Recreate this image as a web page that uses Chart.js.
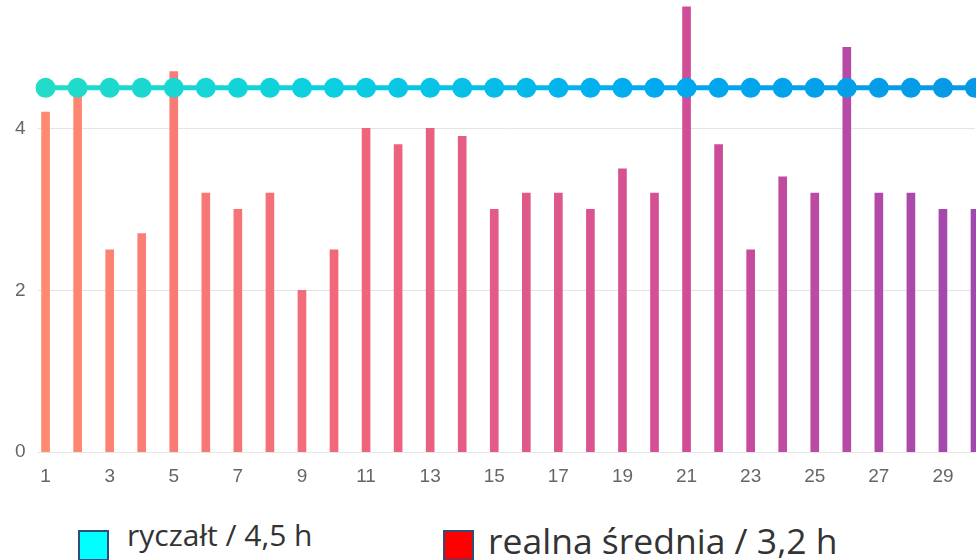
<!DOCTYPE html>
<html>
<head>
<meta charset="utf-8">
<script src="https://cdn.jsdelivr.net/npm/chart.js@4.4.1/dist/chart.umd.min.js"></script>
<style>
html,body{margin:0;padding:0;width:976px;height:560px;overflow:hidden;background:#ffffff;}
#wrap{position:absolute;left:0;top:0;}
.leg{position:absolute;font-family:"Open Sans",sans-serif;color:#333;white-space:nowrap;line-height:1;}
.box{position:absolute;width:27px;height:27px;border:2px solid #2f4c7c;}
</style>
</head>
<body>
<div id="wrap"><canvas id="c" width="985" height="558"></canvas></div>
<div class="box" style="left:78px;top:530px;background:#00ffff"></div>
<div class="leg" style="left:127px;top:520px;font-size:30px">ryczałt / 4,5 h</div>
<div class="box" style="left:443px;top:530px;background:#ff0000"></div>
<div class="leg" style="left:488px;top:523px;font-size:35.5px">realna średnia / 3,2 h</div>
<script>
const dayLabels = ['1','2','3','4','5','6','7','8','9','10','11','12','13','14','15','16','17','18','19','20','21','22','23','24','25','26','27','28','29','30'];
const realHours = [4.2,4.5,2.5,2.7,4.7,3.2,3.0,3.2,2.0,2.5,4.0,3.8,4.0,3.9,3.0,3.2,3.2,3.0,3.5,3.2,5.5,3.8,2.5,3.4,3.2,5.0,3.2,3.2,3.0,3.0];
const flatHours = [4.5,4.5,4.5,4.5,4.5,4.5,4.5,4.5,4.5,4.5,4.5,4.5,4.5,4.5,4.5,4.5,4.5,4.5,4.5,4.5,4.5,4.5,4.5,4.5,4.5,4.5,4.5,4.5,4.5,4.5];
const yTicks = [0,2,4,6];

function barGradient(ctx){
  const ch = ctx.chart; const a = ch.chartArea;
  if(!a) return '#f0647c';
  const g = ch.ctx.createLinearGradient(a.left, 0, a.right, 0);
  g.addColorStop(0, '#ff8a70');
  g.addColorStop(0.35, '#ef647c');
  g.addColorStop(0.7, '#d04c98');
  g.addColorStop(1, '#a048b0');
  return g;
}
function lineGradient(ctx){
  const ch = ctx.chart; const a = ch.chartArea;
  if(!a) return '#10c8e0';
  const g = ch.ctx.createLinearGradient(a.left, 0, a.right, 0);
  g.addColorStop(0, '#22dcc8');
  g.addColorStop(0.3, '#0cd0e0');
  g.addColorStop(0.65, '#00aaf0');
  g.addColorStop(1, '#0898e4');
  return g;
}

const chart = new Chart(document.getElementById('c'), {
  type: 'bar',
  data: {
    labels: dayLabels,
    datasets: [
      {
        type: 'line',
        label: 'ryczałt / 4,5 h',
        data: flatHours,
        borderColor: lineGradient,
        backgroundColor: lineGradient,
        pointBackgroundColor: lineGradient,
        pointBorderColor: lineGradient,
        pointBorderWidth: 0,
        pointRadius: 10,
        borderWidth: 5,
        fill: false,
        tension: 0,
        clip: false,
        order: 0
      },
      {
        type: 'bar',
        label: 'realna średnia / 3,2 h',
        data: realHours,
        backgroundColor: barGradient,
        barThickness: 8,
        clip: false,
        order: 1
      }
    ]
  },
  options: {
    responsive: false,
    animation: false,
    events: [],
    layout: { padding: 0 },
    plugins: { legend: { display: false }, tooltip: { enabled: false } },
    scales: {
      x: {
        offset: false,
        grid: { display: false, drawTicks: false },
        border: { display: false },
        ticks: {
          autoSkip: false,
          maxRotation: 0,
          padding: 13,
          color: '#666',
          font: { size: 19 },
          callback: (v, i) => (i % 2 === 0 ? dayLabels[i] : '')
        }
      },
      y: {
        min: yTicks[0],
        max: yTicks[yTicks.length - 1],
        grid: { color: '#e4e4e4', tickLength: 8 },
        border: { display: false },
        ticks: { stepSize: 2, padding: 12, color: '#666', font: { size: 19 } }
      }
    }
  }
});
const wrap = document.getElementById('wrap');
wrap.style.left = (46 - chart.scales.x.getPixelForValue(0)) + 'px';
wrap.style.top = (452 - chart.scales.y.getPixelForValue(0)) + 'px';
</script>
</body>
</html>
